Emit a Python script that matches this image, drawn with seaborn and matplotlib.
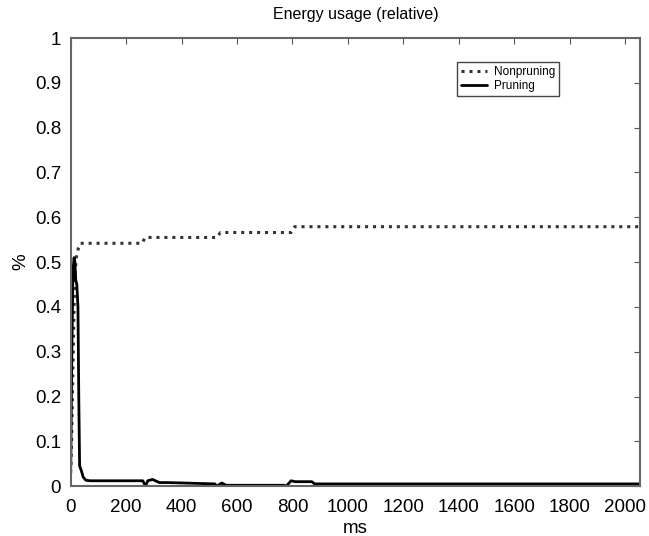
import numpy as np
import pandas as pd
import seaborn as sns
import matplotlib.pyplot as plt

# values (ms, relative energy)
nonpruning_ms = [0, 3, 6, 9, 12, 15, 20, 27, 35, 258, 268, 528, 540, 795, 808, 2054]
nonpruning_val = [0.03, 0.10, 0.20, 0.30, 0.40, 0.47, 0.51, 0.53, 0.542, 0.542, 0.555, 0.555,
                  0.566, 0.566, 0.579, 0.579]

pruning_ms = [0, 4, 8, 12, 15, 18, 22, 26, 29, 32, 38, 45, 55, 70, 260, 270, 278, 295, 320,
              350, 520, 527, 545, 560, 770, 778, 795, 810, 870, 880, 2054]
pruning_val = [0.04, 0.30, 0.48, 0.51, 0.50, 0.46, 0.45, 0.40, 0.20, 0.045, 0.035, 0.02, 0.013,
               0.012, 0.012, 0.0, 0.012, 0.015, 0.008, 0.008, 0.005, 0.0, 0.007, 0.002, 0.002,
               0.0, 0.012, 0.01, 0.01, 0.005, 0.005]

x_ticks = np.arange(0, 2001, 200)
y_ticks = np.round(np.arange(0, 1.01, 0.1), 1)
y_labels = ["0"] + [f"{v:.1f}" for v in y_ticks[1:-1]] + ["1"]

sns.set_style("white", {"text.color": "black", "axes.labelcolor": "black",
                        "xtick.color": "black", "ytick.color": "black"})
plt.rcParams['font.family'] = ['Liberation Sans', 'DejaVu Sans']

fig = plt.figure(figsize=(6.49, 5.36), dpi=100)
ax = fig.add_axes([0.109, 0.093, 0.877, 0.836])

df_np = pd.DataFrame({"ms": nonpruning_ms, "val": nonpruning_val})
df_p = pd.DataFrame({"ms": pruning_ms, "val": pruning_val})

sns.lineplot(data=df_np, x="ms", y="val", ax=ax, estimator=None, sort=False,
             color="#333333", linewidth=2.2, linestyle=(0, (1, 1.6)), label="Nonpruning")
sns.lineplot(data=df_p, x="ms", y="val", ax=ax, estimator=None, sort=False,
             color="black", linewidth=2.0, label="Pruning")

ax.set_xlim(0, 2054)
ax.set_ylim(0, 1)
ax.set_xticks(x_ticks)
ax.set_yticks(y_ticks)
ax.set_yticklabels(y_labels)
ax.tick_params(axis='both', direction='in', length=4, labelsize=13.5, color="#555555",
               labelcolor="black", top=True, right=True)
ax.tick_params(axis='x', pad=9)
ax.tick_params(axis='y', pad=7)
for s in ax.spines.values():
    s.set_color("#666666")
    s.set_linewidth(1.5)

ax.set_title("Energy usage (relative)", fontsize=11.5, pad=14, color="black")
ax.set_xlabel("ms", fontsize=13.5, labelpad=3, color="black")
ax.set_ylabel("%", fontsize=13.5, labelpad=4, color="black")

leg = ax.legend(loc="upper left", bbox_to_anchor=(0.678, 0.946), fontsize=8.5,
                frameon=True, fancybox=False, framealpha=1, borderpad=0.35,
                handlelength=2.2, labelspacing=0.15, handletextpad=0.6, borderaxespad=0)
leg.get_frame().set_edgecolor("#444444")
leg.get_frame().set_linewidth(1.0)
for t in leg.get_texts():
    t.set_color("black")

plt.savefig("out.png", dpi=100)
